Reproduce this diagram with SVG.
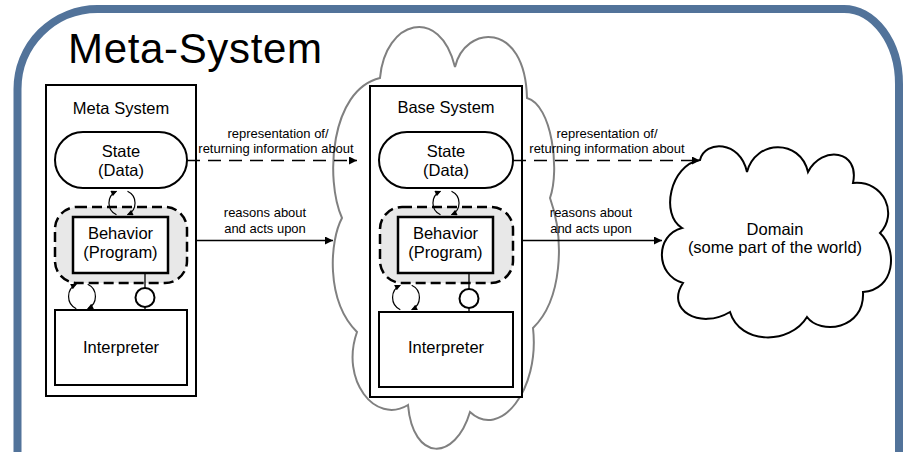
<svg xmlns="http://www.w3.org/2000/svg" width="903" height="452" viewBox="0 0 903 452">
<style>
text{font-family:"Liberation Sans",Arial,sans-serif;fill:#000;text-anchor:middle}
.n{font-size:16.5px}
.l{font-size:13px}
.box{fill:#fff;stroke:#000;stroke-width:2}
.dash{fill:#e8e8e8;stroke:#000;stroke-width:2.5;stroke-dasharray:10 5}
.ln{fill:none;stroke:#000;stroke-width:1.3}
.cy{fill:none;stroke:#000;stroke-width:1.2}
</style>
<defs>
<marker id="ah" viewBox="0 0 10 10" refX="10" refY="5" markerWidth="11" markerHeight="8" markerUnits="userSpaceOnUse" orient="auto"><path d="M0,0 L10,5 L0,10 z" fill="#000"/></marker>
<marker id="as" viewBox="0 0 10 10" refX="9" refY="5" markerWidth="7" markerHeight="6" markerUnits="userSpaceOnUse" orient="auto"><path d="M0,0 L10,5 L0,10 z" fill="#000"/></marker>
</defs>
<rect width="903" height="452" fill="#fff"/>
<g id="frame">
<path d="M17.5,460 L17.5,89 A80,80 0 0 1 97.5,9 L844,9 A55,75 0 0 1 899,84 L899,460" fill="none" stroke="#52739a" stroke-width="8"/>
<text x="68" y="63" style="font-size:42px;text-anchor:start" fill="#111" textLength="254">Meta-System</text>
</g>
<g id="base-cloud">
<path d="M380,78 C385,20 440,5 455,67 C465,25 525,20 527,98 C552,105 560,170 550,198 C565,240 562,300 533,328 C540,390 500,440 470,412 C455,462 413,462 408,405 C375,425 340,380 357,332 C325,300 330,240 342,218 C325,180 330,90 380,78 Z" fill="#fff" stroke="#808080" stroke-width="2"/>
</g>
<g id="meta-system">
<rect class="box" x="46" y="85" width="150" height="311"/>
<text class="n" x="121" y="114">Meta System</text>
</g>
<g id="meta-state">
<rect class="box" x="55" y="132" width="132" height="56" rx="28"/>
<text class="n" x="121" y="157">State</text>
<text class="n" x="121" y="175.5">(Data)</text>
</g>
<g id="meta-behavior">
<rect class="dash" x="55" y="207" width="132" height="76" rx="22"/>
<rect class="box" x="73" y="217" width="95" height="56" style="stroke-width:2.5"/>
<text class="n" x="120.5" y="239">Behavior</text>
<text class="n" x="120.5" y="258">(Program)</text>
</g>
<g id="meta-interpreter">
<rect class="box" x="55" y="310" width="132" height="75"/>
<text class="n" x="121" y="353">Interpreter</text>
</g>
<g id="base-system">
<rect class="box" x="370" y="86" width="152" height="311"/>
<text class="n" x="446" y="113">Base System</text>
</g>
<g id="base-state">
<rect class="box" x="379" y="132" width="134" height="56" rx="28"/>
<text class="n" x="446" y="157">State</text>
<text class="n" x="446" y="175.5">(Data)</text>
</g>
<g id="base-behavior">
<rect class="dash" x="380" y="207" width="133" height="76" rx="22"/>
<rect class="box" x="398" y="217" width="95" height="56" style="stroke-width:2.5"/>
<text class="n" x="445.5" y="239">Behavior</text>
<text class="n" x="445.5" y="258">(Program)</text>
</g>
<g id="base-interpreter">
<rect class="box" x="379" y="312" width="134" height="75"/>
<text class="n" x="446" y="353">Interpreter</text>
</g>
<g id="domain">
<path d="M700,160 C705,140 740,140 747,172 C755,140 800,138 808,172 C822,145 860,150 853,183 C885,180 898,215 880,233 C898,250 895,290 863,292 C865,330 820,335 807,317 C790,345 740,345 730,312 C700,330 665,310 683,283 C655,275 655,235 682,228 C660,215 670,165 700,160 Z" fill="#fff" stroke="#000" stroke-width="2"/>
<text class="n" x="775" y="235">Domain</text>
<text class="n" x="775" y="253">(some part of the world)</text>
</g>
<g id="connectors">
<path class="cy" d="M116.5,214.8 A13,13 0 0 1 116.5,191.2" marker-end="url(#as)"/>
<path class="cy" d="M127.5,191.2 A13,13 0 0 1 127.5,214.8" marker-end="url(#as)"/>
<path class="cy" d="M76.3,308.7 A13.5,13.5 0 0 1 76.3,284.3" marker-end="url(#as)"/>
<path class="cy" d="M87.7,284.3 A13.5,13.5 0 0 1 87.7,308.7" marker-end="url(#as)"/>
<path class="cy" d="M440.5,214.8 A13,13 0 0 1 440.5,191.2" marker-end="url(#as)"/>
<path class="cy" d="M451.5,191.2 A13,13 0 0 1 451.5,214.8" marker-end="url(#as)"/>
<path class="cy" d="M400.3,309.7 A13.5,13.5 0 0 1 400.3,285.3" marker-end="url(#as)"/>
<path class="cy" d="M411.7,285.3 A13.5,13.5 0 0 1 411.7,309.7" marker-end="url(#as)"/>
<path class="ln" d="M145,273 V288 M145,307 V310"/>
<circle cx="145" cy="297.5" r="9.5" fill="#fff" stroke="#000" stroke-width="2"/>
<path class="ln" d="M469,273 V289 M469,308 V312"/>
<circle cx="469" cy="298.5" r="9.5" fill="#fff" stroke="#000" stroke-width="2"/>
<path class="ln" d="M187,160.5 H357" style="stroke-dasharray:13 8" marker-end="url(#ah)"/>
<path class="ln" d="M196,240.5 H333" marker-end="url(#ah)"/>
<path class="ln" d="M513,160.5 H700" style="stroke-dasharray:13 8" marker-end="url(#ah)"/>
<path class="ln" d="M522,240.5 H662" marker-end="url(#ah)"/>
<text class="l" x="278" y="138">representation of/</text>
<text class="l" x="276" y="153">returning information about</text>
<text class="l" x="265" y="217">reasons about</text>
<text class="l" x="265" y="233">and acts upon</text>
<text class="l" x="607" y="138">representation of/</text>
<text class="l" x="607" y="153">returning information about</text>
<text class="l" x="591" y="217">reasons about</text>
<text class="l" x="591" y="233">and acts upon</text>
</g>
</svg>
